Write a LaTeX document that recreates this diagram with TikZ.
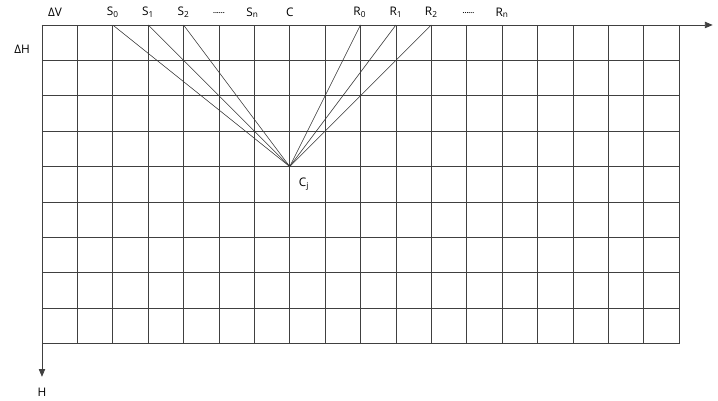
\documentclass[tikz,border=0pt]{standalone}
\usepackage{fontspec}
\setmainfont{Open Sans}
\usetikzlibrary{arrows.meta}

\begin{document}
\begin{tikzpicture}[
    x=1cm,y=1cm,
    >={Triangle[length=2.2mm,width=1.8mm]},
    gridline/.style={draw=black!75,line width=0.55pt},
    axis/.style={draw=black!75,line width=0.6pt,->},
    ray/.style={draw=black!80,line width=0.45pt},
    lab/.style={font=\fontsize{9.5}{11}\selectfont,inner sep=1pt}
  ]
  \useasboundingbox (-1.186,0.706) rectangle (19.10,-10.62);

  % grid of cells
  \draw[gridline] (0,0) grid (18,-9);
  \draw[axis] (0,0) -- (18.95,0);
  \draw[axis] (0,0) -- (0,-9.94);

  % points on the top line and the centre point
  \coordinate (s0) at (2,0);
  \coordinate (s1) at (3,0);
  \coordinate (s2) at (4,0);
  \coordinate (r0) at (9,0);
  \coordinate (r1) at (10,0);
  \coordinate (r2) at (11,0);
  \coordinate (cj) at (7,-4);

  % labels
  \node[lab] (dV) at (0.37,0.35) {ΔV};
  \node[lab] (lS0) at (2,0.35) {S\textsubscript{0}};
  \node[lab] (lS1) at (3,0.35) {S\textsubscript{1}};
  \node[lab] (lS2) at (4,0.35) {S\textsubscript{2}};
  \node[lab] (dotS) at (5,0.33) {\fontsize{5.5}{6}\selectfont\textbf{......}};
  \node[lab] (lSn) at (5.95,0.35) {S\textsubscript{n}};
  \node[lab] (lC) at (7,0.35) {C};
  \node[lab] (lR0) at (8.98,0.35) {R\textsubscript{0}};
  \node[lab] (lR1) at (10,0.35) {R\textsubscript{1}};
  \node[lab] (lR2) at (11,0.35) {R\textsubscript{2}};
  \node[lab] (dotR) at (12.05,0.33) {\fontsize{5.5}{6}\selectfont\textbf{......}};
  \node[lab] (lRn) at (13,0.35) {R\textsubscript{n}};
  \node[lab] (dH) at (-0.56,-0.68) {ΔH};
  \node[lab] (lH) at (0,-10.37) {H};
  \node[lab] (lCj) at (7.4,-4.5) {C\textsubscript{j}};

  % rays to the centre point
  \foreach \p in {s0,s1,s2,r0,r1,r2}
    \draw[ray] (\p) -- (cj);
\end{tikzpicture}
\end{document}
